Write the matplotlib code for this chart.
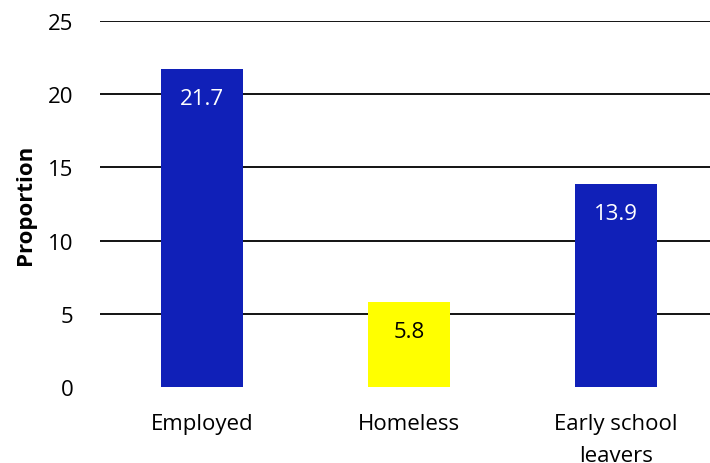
import matplotlib
matplotlib.use("Agg")
import matplotlib.pyplot as plt

categories = ["Employed", "Homeless", "Early school\nleavers"]
values = [21.7, 5.8, 13.9]
colors = ["#1020B8", "#FFFF00", "#1020B8"]
label_colors = ["white", "black", "white"]
yticks = [0, 5, 10, 15, 20, 25]

plt.rcParams['font.family'] = ['Open Sans', 'DejaVu Sans']
FS = 16

fig = plt.figure(figsize=(7.10, 4.64), dpi=100)
ax = fig.add_axes([100/710, (464-388)/464, 610/710, (388-22)/464])

x = list(range(len(categories)))
ax.set_xlim(-0.493, 2.454)
ax.set_ylim(0, 25)
ax.set_yticks(yticks)
for t in yticks[1:]:
    ax.axhline(t, color="black", lw=1.3, zorder=0)
ax.bar(x, values, width=0.40, color=colors, zorder=2)
for xi, v, c in zip(x, values, label_colors):
    ax.text(xi, v - 1.3, f"{v}", ha="center", va="top", color=c, fontsize=FS, zorder=3)

for s in ax.spines.values():
    s.set_visible(False)
ax.tick_params(axis="y", length=0, pad=19, labelsize=FS)
ax.tick_params(axis="x", length=0, pad=18.5, labelsize=FS)
ax.set_xticks(x)
ax.set_xticklabels(categories, linespacing=1.7)
ax.set_ylabel("Proportion", fontsize=FS, fontweight="bold", labelpad=9)

fig.savefig("out.png", dpi=100)
